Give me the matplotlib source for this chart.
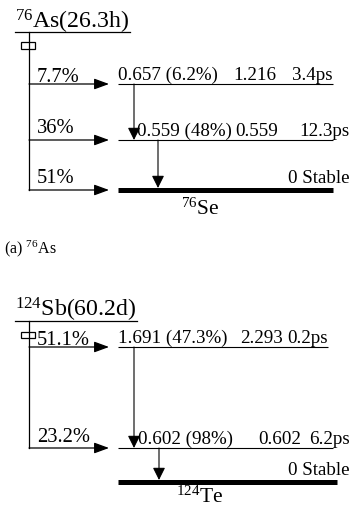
import matplotlib
matplotlib.use("Agg")
import matplotlib.pyplot as plt
from matplotlib.patches import Rectangle

plt.rcParams["font.family"] = ["Liberation Serif", "DejaVu Serif"]
plt.rcParams["mathtext.fontset"] = "custom"
plt.rcParams["mathtext.rm"] = "Liberation Serif"
plt.rcParams["mathtext.it"] = "Liberation Serif:italic"

# ---------------- data ----------------
A_parent = ("76", "As")
A_parent_halflife = "26.3h"
A_daughter = ("76", "Se")
A_level_energy = ["1.216", "0.559", "0"]
A_level_halflife = ["3.4ps", "12.3ps", "Stable"]
A_beta_branch = ["7.7%", "36%", "51%"]
A_gamma_energy = ["0.657", "0.559"]
A_gamma_intensity = ["6.2%", "48%"]
A_caption = "(a) $^{76}$As"

B_parent = ("124", "Sb")
B_parent_halflife = "60.2d"
B_daughter = ("124", "Te")
B_level_energy = ["2.293", "0.602", "0"]
B_level_halflife = ["0.2ps", "6.2ps", "Stable"]
B_beta_branch = ["51.1%", "23.2%"]
B_gamma_energy = ["1.691", "0.602"]
B_gamma_intensity = ["47.3%", "98%"]

# ---------------- layout (pixel coordinates) ----------------
A_layout = dict(title_base=29, underline=32, title_right=130,
                level_y=[84, 140, 190], flag=(42, 49),
                beta_lab_off=[2, 7, 7],
                gamma_x=[134, 158], gamma_text_x=[118, 137],
                energy_x=[233, 235], hl_right=[333, 350],
                line_right=[333, 333, 333], daughter_base=215)
B_layout = dict(title_base=317, underline=321, title_right=137,
                level_y=[347, 448, 482], flag=(332, 338),
                beta_lab_off=[2, 6],
                gamma_x=[134, 159], gamma_text_x=[118, 138],
                energy_x=[240, 258], hl_right=[328, 350],
                line_right=[328, 333, 337], daughter_base=503)

W, H = 363, 508
fig = plt.figure(figsize=(W / 100, H / 100), dpi=100)
ax = fig.add_axes([0, 0, 1, 1])
ax.set_xlim(0, W)
ax.set_ylim(H, 0)
ax.axis("off")

LX = 29      # parent vertical line x
LEFT = 15    # title left
LV0 = 118    # level line start
BETA_TIP = 109
FS = 13.7
FS_PCT = 14.8


def draw_scheme(parent, t_half, daughter, energies, hls, betas, g_en, g_int, L):
    # parent title
    ax.text(LEFT, L["title_base"], f"$^{{{parent[0]}}}$" + f"{parent[1]}({t_half})",
            fontsize=17.2, ha="left", va="baseline")
    ax.plot([LEFT, L["title_right"]], [L["underline"], L["underline"]], color="k", lw=0.9)
    # decay flag
    f0, f1 = L["flag"]
    ax.add_patch(Rectangle((21, f0), 14, f1 - f0, fill=False, ec="k", lw=0.9, zorder=3))
    # vertical parent line
    last_y = L["level_y"][len(betas) - 1]
    ax.plot([LX, LX], [L["underline"], last_y], color="k", lw=0.9, zorder=2)
    # beta branches
    for i, b in enumerate(betas):
        y = L["level_y"][i]
        ax.annotate("", xy=(BETA_TIP, y), xytext=(LX, y),
                    arrowprops=dict(arrowstyle="-|>,head_length=0.6,head_width=0.22",
                                    mutation_scale=15, lw=0.9, color="k",
                                    shrinkA=0, shrinkB=0))
        ax.text(37, y - L["beta_lab_off"][i], b, fontsize=FS_PCT, ha="left", va="baseline")
    # levels
    n = len(energies)
    for i in range(n):
        y = L["level_y"][i]
        ground = (i == n - 1)
        ax.plot([LV0, L["line_right"][i]], [y, y], color="k",
                lw=3.6 if ground else 0.8, solid_capstyle="butt", zorder=2)
        if ground:
            ax.text(350, y - 7, f"{energies[i]} {hls[i]}", fontsize=FS,
                    ha="right", va="baseline")
        else:
            ax.text(L["gamma_text_x"][i], y - 4, f"{g_en[i]} ({g_int[i]})",
                    fontsize=FS, ha="left", va="baseline")
            ax.text(L["energy_x"][i], y - 4, energies[i], fontsize=FS,
                    ha="left", va="baseline")
            ax.text(L["hl_right"][i], y - 4, hls[i], fontsize=FS,
                    ha="right", va="baseline")
    # gamma transitions (each level to the next one down)
    for i in range(len(g_en)):
        x = L["gamma_x"][i]
        y0 = L["level_y"][i]
        y1 = L["level_y"][i + 1] - (2 if i + 1 == n - 1 else 0)
        ax.annotate("", xy=(x, y1), xytext=(x, y0),
                    arrowprops=dict(arrowstyle="-|>,head_length=0.5,head_width=0.25",
                                    mutation_scale=15, lw=0.8, color="k",
                                    shrinkA=0, shrinkB=0))
    # daughter label
    ax.text(200, L["daughter_base"], f"$^{{{daughter[0]}}}$" + daughter[1],
            fontsize=15.5, ha="center", va="baseline")


draw_scheme(A_parent, A_parent_halflife, A_daughter, A_level_energy, A_level_halflife,
            A_beta_branch, A_gamma_energy, A_gamma_intensity, A_layout)
draw_scheme(B_parent, B_parent_halflife, B_daughter, B_level_energy, B_level_halflife,
            B_beta_branch, B_gamma_energy, B_gamma_intensity, B_layout)

ax.text(4, 253, A_caption, fontsize=11.5, ha="left", va="baseline")

fig.savefig("out.png", dpi=100)
